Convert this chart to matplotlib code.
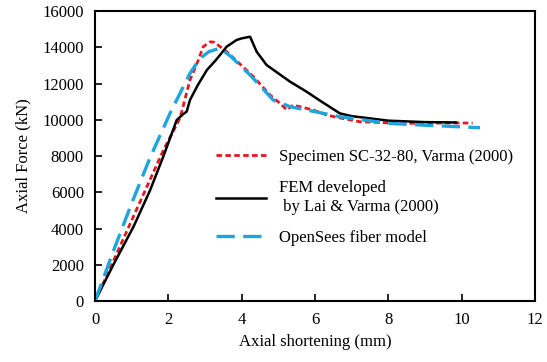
import matplotlib
matplotlib.use("Agg")
import matplotlib.pyplot as plt

# axial shortening (mm) vs axial force (kN)
test_x = [0.0, 0.5, 1.0, 1.86, 2.32, 2.59, 2.82, 2.95, 3.14, 3.25, 3.59, 4.32, 4.77, 5.05, 5.23, 5.4, 5.95, 6.32, 6.68, 7.23, 8.32, 9.3, 10.3]
test_y = [0, 2200, 4450, 8300, 10100, 12190, 13300, 14030, 14300, 14280, 13760, 12380, 11370, 10900, 10540, 10810, 10540, 10260, 10100, 9890, 9800, 9820, 9820]

fem_x = [0.0, 0.5, 1.05, 1.5, 1.86, 2.23, 2.4, 2.5, 2.59, 2.8, 3.05, 3.3, 3.59, 3.86, 4.0, 4.23, 4.41, 4.68, 5.32, 5.77, 6.14, 6.68, 7.0, 8.0, 9.0, 9.85]
fem_y = [0, 2000, 4100, 6100, 7960, 9990, 10300, 10450, 11090, 11900, 12740, 13300, 14030, 14400, 14490, 14580, 13750, 13020, 12100, 11550, 11050, 10350, 10200, 9950, 9870, 9850]

ops_x = [0.0, 0.5, 1.0, 1.5, 2.05, 2.59, 2.86, 3.1, 3.4, 3.7, 4.23, 4.86, 5.32, 6.68, 8.0, 9.0, 10.5]
ops_y = [0, 2750, 5390, 7900, 10370, 12560, 13380, 13750, 13950, 13500, 12470, 11090, 10720, 10170, 9800, 9700, 9560]

serif = ["Liberation Serif", "DejaVu Serif"]
plt.rcParams["font.family"] = serif
plt.rcParams["font.size"] = 12

fig = plt.figure(figsize=(5.47, 3.62), dpi=100)
ax = fig.add_axes([0.1737, 0.1685, 0.8043, 0.8011])

ax.plot(test_x, test_y, color="#e8161e", lw=2.0, ls=(0, (2.0, 1.2)),
        label="Specimen SC-32-80, Varma (2000)")
ax.plot(fem_x, fem_y, color="black", lw=1.8,
        label="FEM developed\n by Lai & Varma (2000)")
ax.plot(ops_x, ops_y, color="#1ea5e0", lw=2.4, ls=(0, (5.5, 2.5)),
        label="OpenSees fiber model")

ax.set_xlim(0, 12)
ax.set_ylim(0, 16000)
ax.set_xticks(range(0, 13, 2))
ax.set_yticks(range(0, 16001, 2000))
ax.tick_params(direction="in", length=5, width=1.2, pad=8)
for s in ax.spines.values():
    s.set_linewidth(1.5)

ax.set_xlabel("Axial shortening (mm)", labelpad=4)
ax.set_ylabel("Axial Force (kN)", labelpad=8)

ax.legend(loc="upper left", bbox_to_anchor=(0.24, 0.575), frameon=False,
          handlelength=3.0, labelspacing=0.9, handletextpad=0.8)

fig.savefig("out.png", dpi=100)
